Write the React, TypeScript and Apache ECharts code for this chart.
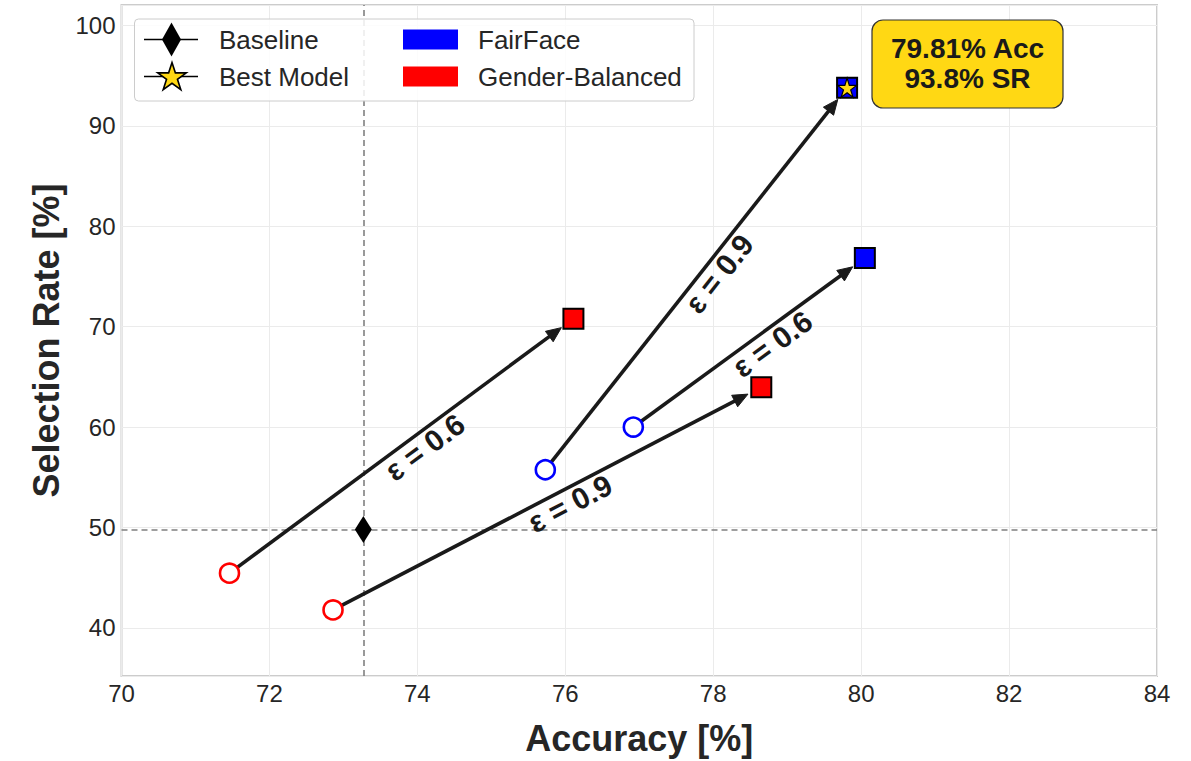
import React, { useEffect, useRef } from "react";
import * as echarts from "echarts";

// Accuracy / selection-rate pairs for each fairness constraint (ε) and dataset
const epsLabels = ["ε = 0.6", "ε = 0.9"];

const ffStartAcc = [76.92, 75.73];
const ffStartSR = [60.0, 55.75];
const ffEndAcc = [80.05, 79.81];
const ffEndSR = [76.84, 93.8];

const gbStartAcc = [71.46, 72.86];
const gbStartSR = [45.45, 41.79];
const gbEndAcc = [76.11, 78.65];
const gbEndSR = [70.79, 63.97];

const baselineAcc = 73.27;
const baselineSR = 49.8;

const bestAcc = 79.81;
const bestSR = 93.8;

const xTicks = [70, 72, 74, 76, 78, 80, 82, 84];
const yTicks = [40, 50, 60, 70, 80, 90, 100];

const BLUE = "#0000ff";
const RED = "#ff0000";
const GOLD = "#FFD814";
const INK = "#1a1a1a";
const FONT = '"Liberation Sans", Arial, sans-serif';

const STAR_PATH =
  "path://M50,0L61.2,34.5L97.6,34.5L68.2,55.9L79.4,90.5L50,69.1L20.6,90.5L31.8,55.9L2.4,34.5L38.8,34.5Z";

function starPoints(cx: number, cy: number, r: number): number[][] {
  const pts: number[][] = [];
  for (let i = 0; i < 10; i++) {
    const ang = (-90 + i * 36) * (Math.PI / 180);
    const rr = i % 2 === 0 ? r : r * 0.382;
    pts.push([cx + rr * Math.cos(ang), cy + rr * Math.sin(ang)]);
  }
  return pts;
}

// arrow rows: [startAcc, startSR, endAcc, endSR, labelIndex]
const arrowRows: number[][] = [
  [gbStartAcc[0], gbStartSR[0], gbEndAcc[0], gbEndSR[0], 0],
  [gbStartAcc[1], gbStartSR[1], gbEndAcc[1], gbEndSR[1], 1],
  [ffStartAcc[0], ffStartSR[0], ffEndAcc[0], ffEndSR[0], 0],
  [ffStartAcc[1], ffStartSR[1], bestAcc, bestSR, 1],
];

function renderArrow(params: any, api: any) {
  const p0 = api.coord([api.value(0), api.value(1)]);
  const p1 = api.coord([api.value(2), api.value(3)]);
  const dx = p1[0] - p0[0];
  const dy = p1[1] - p0[1];
  const len = Math.hypot(dx, dy);
  const ux = dx / len;
  const uy = dy / len;
  const px = -uy;
  const py = ux;
  const shrinkEnd = 15;
  const headLen = 15;
  const hw = 6.5;
  const tip = [p1[0] - ux * shrinkEnd, p1[1] - uy * shrinkEnd];
  const base = [tip[0] - ux * headLen, tip[1] - uy * headLen];
  const mid = [(p0[0] + p1[0]) / 2, (p0[1] + p1[1]) / 2];
  const cx = mid[0] + ux * 18 + px * 15;
  const cy = mid[1] + uy * 18 + py * 15;
  const label = epsLabels[api.value(4)];
  return {
    type: "group",
    children: [
      {
        type: "line",
        shape: { x1: p0[0], y1: p0[1], x2: base[0] + ux * 2, y2: base[1] + uy * 2 },
        style: { stroke: INK, lineWidth: 3.6 },
      },
      {
        type: "polygon",
        shape: {
          points: [
            tip,
            [base[0] + px * hw, base[1] + py * hw],
            [base[0] - px * hw, base[1] - py * hw],
          ],
        },
        style: { fill: INK, stroke: INK, lineWidth: 1 },
      },
      {
        type: "text",
        x: cx,
        y: cy,
        rotation: Math.atan2(-dy, dx),
        style: {
          text: label,
          fontSize: 30,
          fontWeight: "bold",
          fontFamily: FONT,
          fill: INK,
          align: "center",
          verticalAlign: "middle",
          textAlign: "center",
          textVerticalAlign: "middle",
        },
      },
    ],
  };
}

export default function App() {
  const ref = useRef<HTMLDivElement>(null);

  useEffect(() => {
    if (!ref.current) return;
    const chart = echarts.init(ref.current, undefined, { renderer: "svg" });

    const legendX = 134.5;
    const legendY = 19;
    const row1 = 39.5;
    const row2 = 76.5;
    const legendFont = 26;

    const option: any = {
      animation: false,
      backgroundColor: "#ffffff",
      grid: {
        left: 121.5,
        right: 34,
        top: 5,
        bottom: 82,
        show: true,
        borderColor: "#cccccc",
        borderWidth: 2,
        backgroundColor: "transparent",
      },
      xAxis: {
        type: "value",
        min: xTicks[0],
        max: xTicks[xTicks.length - 1],
        interval: 2,
        name: "Accuracy [%]",
        nameLocation: "middle",
        nameGap: 44,
        nameTextStyle: { fontSize: 36, fontWeight: "bold", fontFamily: FONT, color: "#262626" },
        axisLine: { show: false },
        axisTick: { show: false },
        axisLabel: { fontSize: 24, fontFamily: FONT, color: "#262626", margin: 5 },
        splitLine: { show: true, lineStyle: { color: "#ebebeb", width: 1 } },
      },
      yAxis: {
        type: "value",
        min: 35.21,
        max: 102.03,
        splitNumber: 7,
        name: "Selection Rate [%]",
        nameLocation: "middle",
        nameGap: 56,
        nameTextStyle: { fontSize: 36, fontWeight: "bold", fontFamily: FONT, color: "#262626" },
        axisLine: { show: false },
        axisTick: { show: false },
        axisLabel: {
          fontSize: 24,
          fontFamily: FONT,
          color: "#262626",
          margin: 6,
          showMinLabel: false,
          showMaxLabel: false,
          formatter: (v: number) => (yTicks.some((t) => Math.abs(t - v) < 1e-6) ? String(v) : ""),
        },
        splitLine: { show: true, lineStyle: { color: "#ebebeb", width: 1 } },
      },
      series: [
        {
          name: "Baseline",
          type: "scatter",
          z: 4,
          symbol: "diamond",
          symbolSize: [17, 27],
          itemStyle: { color: "#000000", opacity: 1 },
          data: [[baselineAcc, baselineSR]],
          markLine: {
            silent: true,
            symbol: "none",
            label: { show: false },
            lineStyle: { color: "#808080", type: [6, 4], width: 1.6, opacity: 1 },
            data: [{ xAxis: baselineAcc }, { yAxis: baselineSR }],
            z: 1,
          },
        },
        {
          name: "arrows",
          type: "custom",
          z: 3,
          renderItem: renderArrow,
          encode: { x: [0, 2], y: [1, 3] },
          data: arrowRows,
        },
        {
          name: "FairFace start",
          type: "scatter",
          z: 5,
          symbol: "circle",
          symbolSize: 19,
          itemStyle: { color: "#ffffff", borderColor: BLUE, borderWidth: 2.6, opacity: 1 },
          data: ffStartAcc.map((a, i) => [a, ffStartSR[i]]),
        },
        {
          name: "Gender-Balanced start",
          type: "scatter",
          z: 5,
          symbol: "circle",
          symbolSize: 19,
          itemStyle: { color: "#ffffff", borderColor: RED, borderWidth: 2.6, opacity: 1 },
          data: gbStartAcc.map((a, i) => [a, gbStartSR[i]]),
        },
        {
          name: "FairFace",
          type: "scatter",
          z: 5,
          symbol: "rect",
          symbolSize: 20,
          itemStyle: { color: BLUE, borderColor: "#000000", borderWidth: 2, opacity: 1 },
          data: ffEndAcc.map((a, i) => [a, ffEndSR[i]]),
        },
        {
          name: "Gender-Balanced",
          type: "scatter",
          z: 5,
          symbol: "rect",
          symbolSize: 20,
          itemStyle: { color: RED, borderColor: "#000000", borderWidth: 2, opacity: 1 },
          data: gbEndAcc.map((a, i) => [a, gbEndSR[i]]),
        },
        {
          name: "Best Model",
          type: "scatter",
          z: 6,
          symbol: STAR_PATH,
          symbolSize: 19,
          itemStyle: { color: GOLD, borderColor: "#000000", borderWidth: 1.2, opacity: 1 },
          data: [[bestAcc, bestSR]],
        },
      ],
      graphic: [
        // legend frame
        {
          type: "rect",
          z: 100,
          shape: { x: legendX, y: legendY, width: 559.5, height: 82, r: 4 },
          style: { fill: "rgba(255,255,255,0.85)", stroke: "#cccccc", lineWidth: 1 },
        },
        {
          type: "line",
          z: 101,
          shape: { x1: 144, y1: row1, x2: 198, y2: row1 },
          style: { stroke: "#000000", lineWidth: 1.5 },
        },
        {
          type: "polygon",
          z: 102,
          shape: { points: [[171.5, row1 - 17], [181, row1], [171.5, row1 + 17], [162, row1]] },
          style: { fill: "#000000" },
        },
        {
          type: "line",
          z: 101,
          shape: { x1: 144, y1: row2, x2: 198, y2: row2 },
          style: { stroke: "#000000", lineWidth: 1.5 },
        },
        {
          type: "polygon",
          z: 102,
          shape: { points: starPoints(172, row2 + 1, 15) },
          style: { fill: GOLD, stroke: "#000000", lineWidth: 1.6 },
        },
        {
          type: "text",
          z: 102,
          x: 219,
          y: row1,
          style: { text: "Baseline", fontSize: legendFont, fontFamily: FONT, fill: "#262626", align: "left", verticalAlign: "middle" },
        },
        {
          type: "text",
          z: 102,
          x: 219,
          y: row2,
          style: { text: "Best Model", fontSize: legendFont, fontFamily: FONT, fill: "#262626", align: "left", verticalAlign: "middle" },
        },
        {
          type: "rect",
          z: 102,
          shape: { x: 403, y: row1 - 10, width: 55, height: 20 },
          style: { fill: BLUE },
        },
        {
          type: "rect",
          z: 102,
          shape: { x: 403, y: row2 - 10, width: 55, height: 20 },
          style: { fill: RED },
        },
        {
          type: "text",
          z: 102,
          x: 478,
          y: row1,
          style: { text: "FairFace", fontSize: legendFont, fontFamily: FONT, fill: "#262626", align: "left", verticalAlign: "middle" },
        },
        {
          type: "text",
          z: 102,
          x: 478,
          y: row2,
          style: { text: "Gender-Balanced", fontSize: legendFont, fontFamily: FONT, fill: "#262626", align: "left", verticalAlign: "middle" },
        },
        // best-model callout
        {
          type: "rect",
          z: 100,
          shape: { x: 872, y: 20, width: 191, height: 88, r: 11 },
          style: { fill: GOLD, stroke: "#333333", lineWidth: 1.2 },
        },
        {
          type: "text",
          z: 101,
          x: 967.5,
          y: 63,
          style: {
            text: `${bestAcc.toFixed(2)}% Acc\n${bestSR.toFixed(1)}% SR`,
            fontSize: 28,
            fontWeight: "bold",
            fontFamily: FONT,
            lineHeight: 30,
            fill: "#1a1a1a",
            align: "center",
            verticalAlign: "middle",
          },
        },
      ],
    };

    chart.setOption(option);
    return () => chart.dispose();
  }, []);

  return (
    <div
      ref={ref}
      style={{ position: "fixed", left: 0, top: 0, width: 1191, height: 761, background: "#ffffff" }}
    />
  );
}
